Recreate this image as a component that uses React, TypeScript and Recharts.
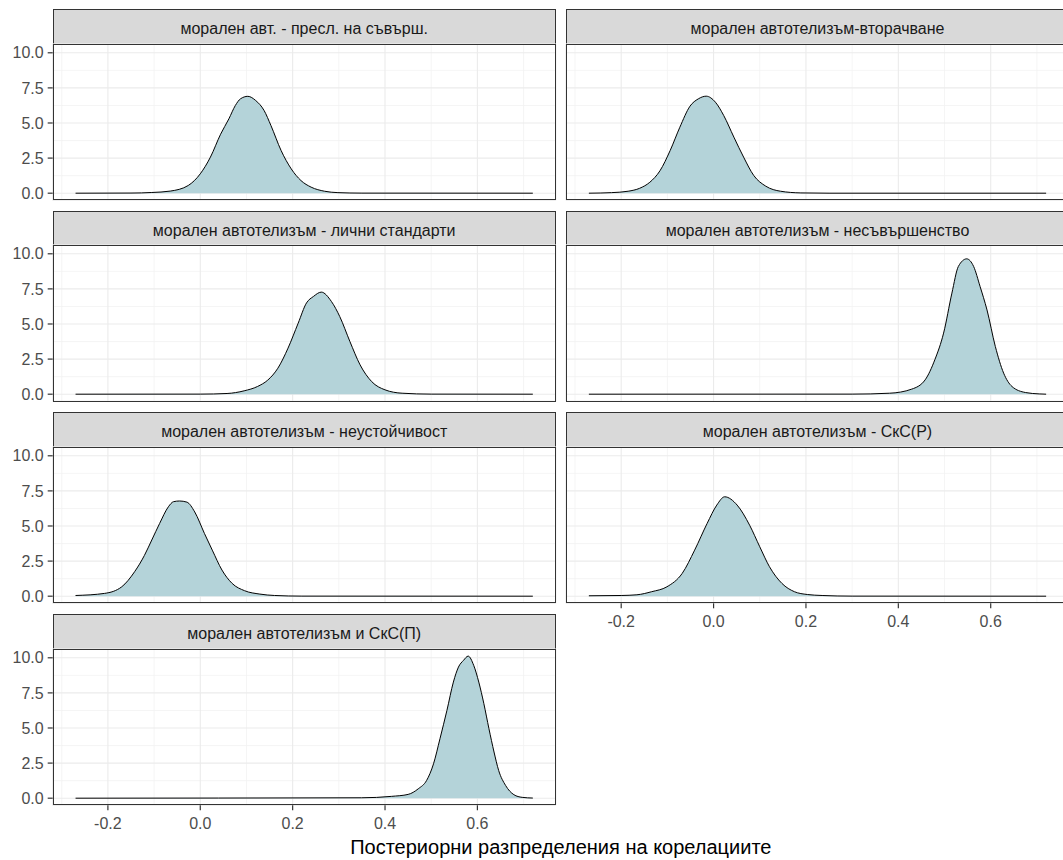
import { AreaChart, Area, XAxis, YAxis, CartesianGrid } from 'recharts';

// facet titles, in panel order (row by row, two per row)
const TITLES = [
  'морален авт. - пресл. на съвърш.',
  'морален автотелизъм-вторачване',
  'морален автотелизъм - лични стандарти',
  'морален автотелизъм - несъвършенство',
  'морален автотелизъм - неустойчивост',
  'морален автотелизъм - СкС(Р)',
  'морален автотелизъм и СкС(П)',
];

const X_TICKS = [-0.2, 0, 0.2, 0.4, 0.6];
const X_MINOR = [-0.3, -0.1, 0.1, 0.3, 0.5, 0.7];
const Y_TICKS = [0, 2.5, 5, 7.5, 10];
const Y_MINOR = [1.25, 3.75, 6.25, 8.75];

// posterior densities: [correlation, density]
const preslSavarsh = [
  [-0.27, 0], [-0.15, 0.01], [-0.105, 0.05], [-0.065, 0.15], [-0.026, 0.55], [0.0, 1.38],
  [0.022, 2.57], [0.044, 4.2], [0.062, 5.3], [0.076, 6.25], [0.087, 6.72], [0.103, 6.9],
  [0.12, 6.6], [0.138, 5.9], [0.153, 4.82], [0.175, 3.04], [0.197, 1.73], [0.218, 0.9],
  [0.24, 0.43], [0.269, 0.14], [0.298, 0.04], [0.35, 0.005], [0.72, 0],
];
const vtorachvane = [
  [-0.27, 0], [-0.221, 0.04], [-0.185, 0.14], [-0.16, 0.35], [-0.138, 0.78], [-0.116, 1.6],
  [-0.094, 3.04], [-0.073, 4.7], [-0.051, 6.2], [-0.033, 6.72], [-0.016, 6.91], [0.004, 6.48],
  [0.022, 5.53], [0.044, 3.99], [0.065, 2.57], [0.087, 1.26], [0.113, 0.5], [0.145, 0.14],
  [0.189, 0.02], [0.25, 0], [0.72, 0],
];
const lichniStandarti = [
  [-0.27, 0], [0.0, 0.005], [0.058, 0.05], [0.095, 0.24], [0.124, 0.55], [0.146, 1.0],
  [0.168, 1.85], [0.19, 3.28], [0.212, 5.06], [0.23, 6.5], [0.245, 6.96], [0.262, 7.27],
  [0.284, 6.6], [0.302, 5.53], [0.324, 3.75], [0.346, 2.09], [0.371, 0.9], [0.4, 0.31],
  [0.437, 0.07], [0.5, 0.005], [0.72, 0],
];
const nesavarshenstvo = [
  [-0.27, 0], [0.3, 0.005], [0.381, 0.07], [0.429, 0.36], [0.458, 1.02], [0.479, 2.45],
  [0.498, 4.35], [0.516, 7.2], [0.53, 9.1], [0.548, 9.64], [0.563, 9.1], [0.577, 7.67],
  [0.592, 6.0], [0.61, 3.4], [0.628, 1.5], [0.646, 0.55], [0.675, 0.12], [0.705, 0.02], [0.72, 0],
];
const neustoichivost = [
  [-0.27, 0.05], [-0.207, 0.2], [-0.17, 0.67], [-0.142, 1.75], [-0.121, 2.9], [-0.105, 4.0],
  [-0.088, 5.18], [-0.069, 6.37], [-0.058, 6.73], [-0.045, 6.78], [-0.029, 6.7], [-0.012, 6.0],
  [0.009, 4.47], [0.026, 3.28], [0.047, 1.86], [0.069, 0.91], [0.096, 0.39], [0.129, 0.15],
  [0.161, 0.05], [0.22, 0.005], [0.72, 0],
];
const sksR = [
  [-0.27, 0.03], [-0.2, 0.05], [-0.166, 0.1], [-0.134, 0.32], [-0.101, 0.67], [-0.068, 1.62],
  [-0.041, 3.28], [-0.014, 5.18], [0.007, 6.49], [0.024, 7.08], [0.051, 6.49], [0.078, 5.06],
  [0.1, 3.52], [0.121, 2.1], [0.148, 0.91], [0.175, 0.32], [0.203, 0.12], [0.235, 0.05],
  [0.3, 0.005], [0.72, 0],
];
const sksP = [
  [-0.27, 0], [0.349, 0.03], [0.414, 0.13], [0.45, 0.27], [0.472, 0.67], [0.49, 1.26],
  [0.505, 2.45], [0.519, 4.24], [0.534, 6.25], [0.548, 8.27], [0.559, 9.34], [0.57, 9.82],
  [0.58, 10.12], [0.592, 9.46], [0.603, 8.27], [0.614, 6.73], [0.625, 4.95], [0.636, 3.29],
  [0.646, 1.98], [0.661, 0.91], [0.679, 0.25], [0.697, 0.06], [0.72, 0.01],
];

const SERIES = [preslSavarsh, vtorachvane, lichniStandarti, nesavarshenstvo, neustoichivost, sksR, sksP];

// ggplot-like layout
const FONT = '"Liberation Sans", Arial, sans-serif';
const X_DOMAIN = [-0.3195, 0.7695];
const Y_DOMAIN = [-0.506, 10.626];
const COL_X = [52.7, 566];
const PLOT_W = 503;
const PLOT_H = 156.3;
const STRIP_H = 34.7;
const ROW_STEP = 201.7;
const TOP = 9;
const Y_AXIS_W = 52.7;
const X_AXIS_H = 40;

const fmt = (v: number) => v.toFixed(1);

function Panel({ index }: { index: number }) {
  const row = Math.floor(index / 2);
  const col = index % 2;
  const showX = index >= 5;
  const showY = col === 0;
  const stripTop = TOP + ROW_STEP * row;
  const plotTop = stripTop + STRIP_H;
  const data = SERIES[index].map(([x, d]) => ({ x, d }));
  const yw = showY ? Y_AXIS_W : 0;

  return (
    <>
      <div
        style={{
          position: 'absolute',
          left: COL_X[col],
          top: stripTop,
          width: PLOT_W,
          height: STRIP_H,
          boxSizing: 'border-box',
          background: '#d9d9d9',
          border: '1.5px solid #333333',
          borderBottom: 'none',
          color: '#1a1a1a',
          fontSize: 16,
          lineHeight: `${STRIP_H + 3}px`,
          textAlign: 'center',
          whiteSpace: 'nowrap',
        }}
      >
        {TITLES[index]}
      </div>
      <div style={{ position: 'absolute', left: COL_X[col] - yw, top: plotTop }}>
        <AreaChart
          width={PLOT_W + yw}
          height={PLOT_H + (showX ? X_AXIS_H : 0)}
          data={data}
          margin={{ top: 0, right: 0, bottom: 0, left: 0 }}
        >
          {/* minor grid first, then major grid, both under the density */}
          <CartesianGrid xAxisId="minor" yAxisId="minor" stroke="#f2f2f2" strokeWidth={0.8} />
          <CartesianGrid stroke="#ebebeb" strokeWidth={1.1} />
          <XAxis xAxisId="minor" type="number" dataKey="x" domain={X_DOMAIN} ticks={X_MINOR} interval={0} allowDataOverflow hide />
          <YAxis yAxisId="minor" type="number" domain={Y_DOMAIN} ticks={Y_MINOR} interval={0} allowDataOverflow hide />
          <XAxis
            type="number"
            dataKey="x"
            domain={X_DOMAIN}
            ticks={X_TICKS}
            interval={0}
            allowDataOverflow
            hide={!showX}
            height={X_AXIS_H}
            tickFormatter={fmt}
            axisLine={false}
            tickSize={5}
            tickMargin={7}
            tickLine={{ stroke: '#333333', strokeWidth: 1.2 }}
            tick={{ fill: '#4d4d4d', fontSize: 16, fontFamily: FONT }}
          />
          <YAxis
            type="number"
            domain={Y_DOMAIN}
            ticks={Y_TICKS}
            interval={0}
            allowDataOverflow
            hide={!showY}
            width={Y_AXIS_W}
            tickFormatter={fmt}
            axisLine={false}
            tickSize={5}
            tickMargin={4}
            tickLine={{ stroke: '#333333', strokeWidth: 1.2 }}
            tick={{ fill: '#4d4d4d', fontSize: 16, fontFamily: FONT }}
          />
          <Area
            type="monotone"
            dataKey="d"
            baseValue={0}
            stroke="#000000"
            strokeWidth={1}
            fill="#b4d3d9"
            fillOpacity={1}
            dot={false}
            activeDot={false}
            isAnimationActive={false}
          />
        </AreaChart>
      </div>
      <div
        style={{
          position: 'absolute',
          left: COL_X[col],
          top: plotTop,
          width: PLOT_W,
          height: PLOT_H,
          boxSizing: 'border-box',
          border: '1.5px solid #333333',
          pointerEvents: 'none',
        }}
      />
    </>
  );
}

export default function App() {
  return (
    <div
      style={{
        position: 'absolute',
        left: 0,
        top: 0,
        width: 1063,
        height: 860,
        overflow: 'hidden',
        background: '#ffffff',
        fontFamily: FONT,
      }}
    >
      <style>{'.recharts-surface { overflow: visible; }'}</style>
      {TITLES.map((_, i) => (
        <Panel key={i} index={i} />
      ))}
      <div
        style={{
          position: 'absolute',
          left: COL_X[0],
          top: 834,
          width: COL_X[1] + PLOT_W - COL_X[0],
          textAlign: 'center',
          fontSize: 20,
          lineHeight: '26px',
          color: '#000000',
        }}
      >
        Постериорни разпределения на корелациите
      </div>
    </div>
  );
}
